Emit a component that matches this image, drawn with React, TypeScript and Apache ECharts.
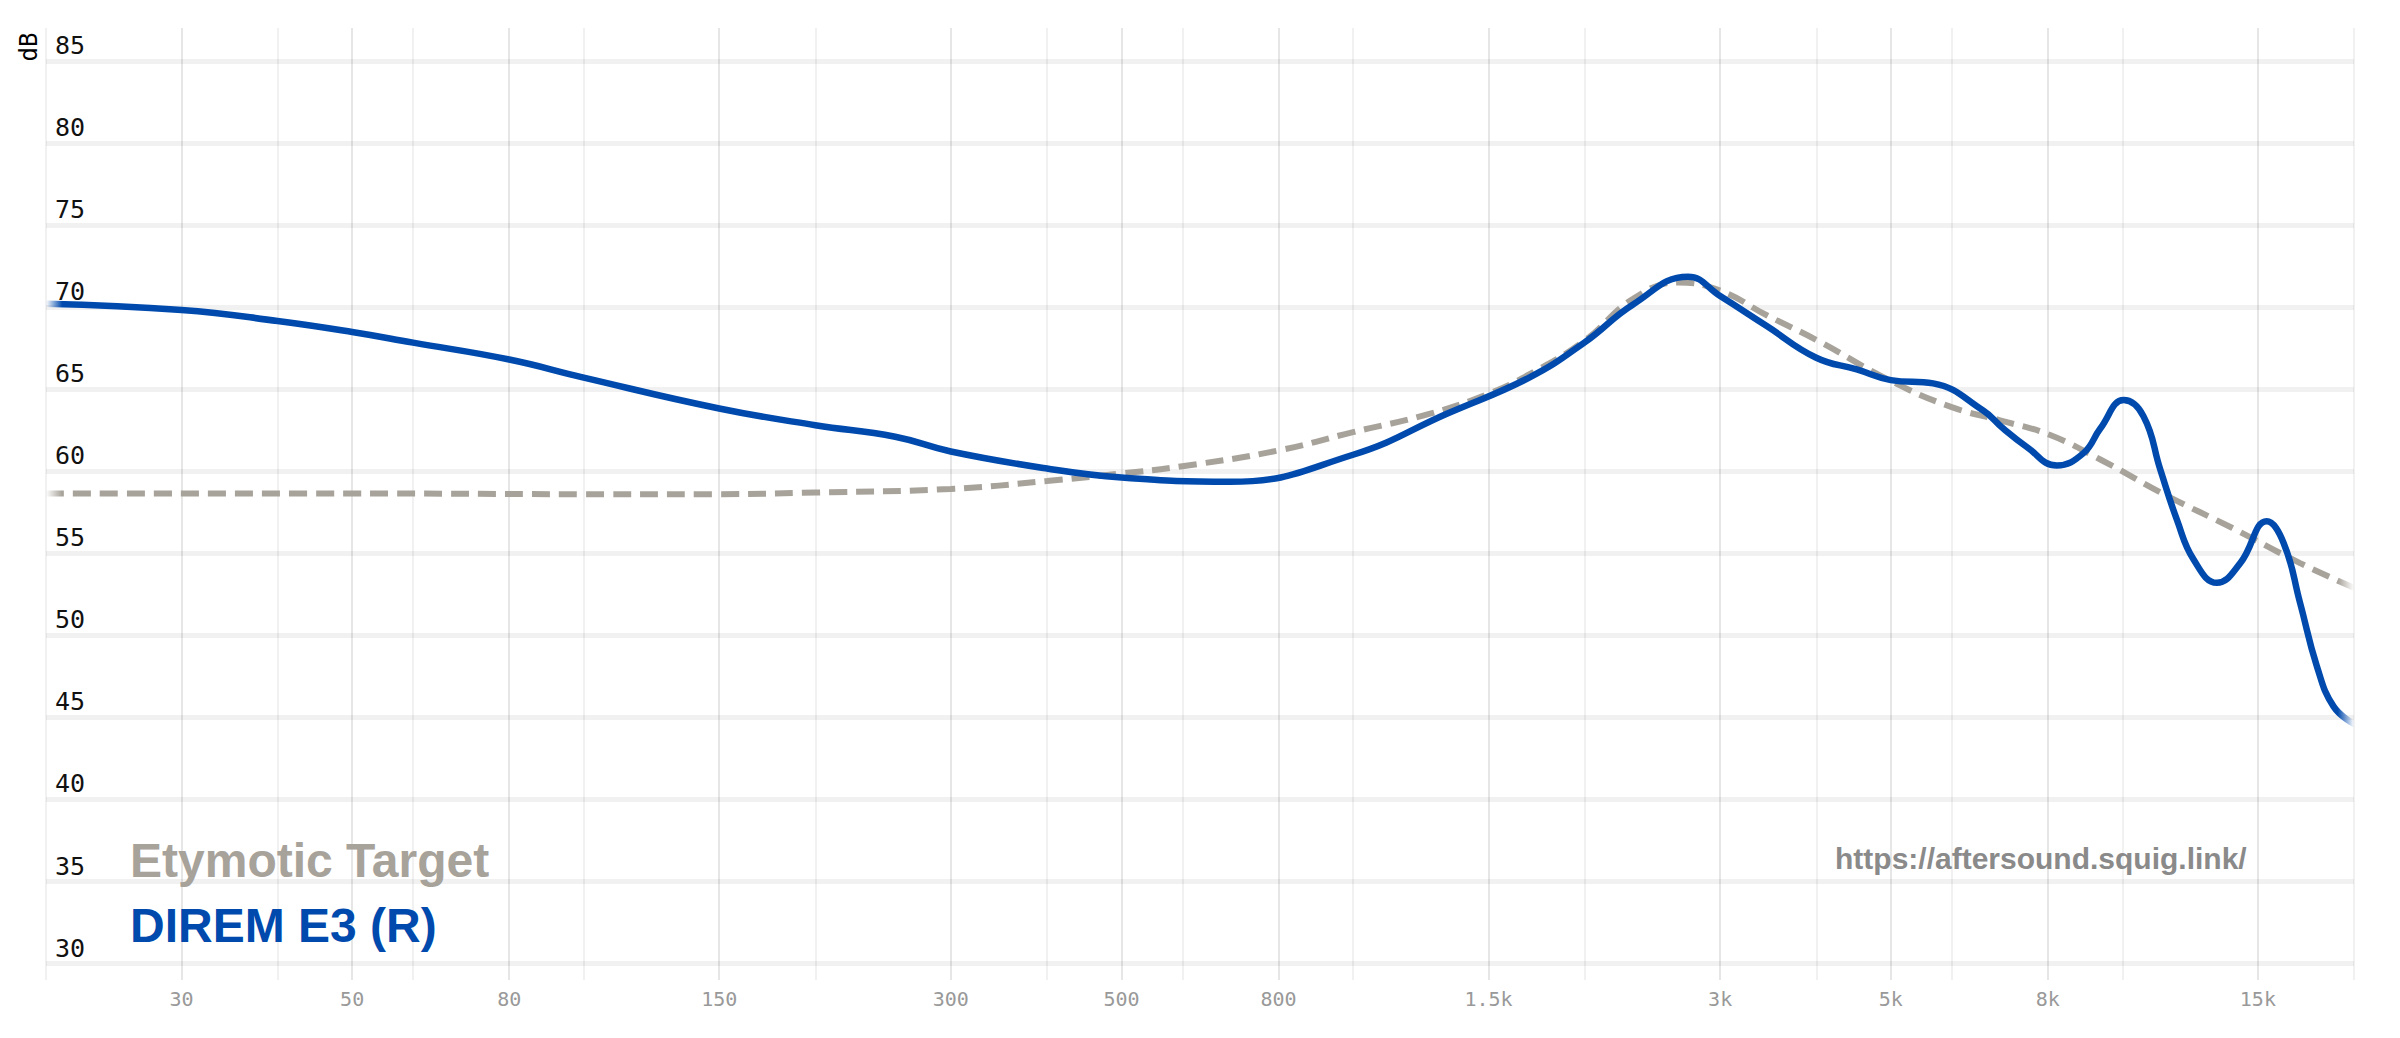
import React, { useEffect, useRef } from "react";
import * as echarts from "echarts";

// Measured response: DIREM E3 (R)
const diremFreq = [20, 30, 40, 50, 60, 80, 100, 150, 200, 254, 300, 400, 500, 692, 1000, 1324, 1699, 2000, 2312, 2725, 3000, 3449, 4000, 4516, 5000, 5675, 6592, 7000, 7500, 8217, 8900, 9360, 10040, 10650, 11200, 11770, 12380, 13270, 14230, 15400, 16200, 17020, 17900, 18810, 20000];
const diremDb = [70.2, 69.82, 69.15, 68.48, 67.83, 66.8, 65.7, 63.82, 62.8, 62.1, 61.2, 60.16, 59.61, 59.35, 61.0, 63.5, 65.73, 67.85, 70.16, 71.85, 70.67, 68.84, 66.91, 66.2, 65.55, 65.35, 63.7, 62.6, 61.5, 60.35, 61.1, 62.6, 64.33, 63.35, 60.1, 57.05, 54.6, 53.2, 54.4, 56.95, 55.63, 51.97, 48.1, 45.67, 44.6];

// Target: Etymotic Target
const targetFreq = [20, 50, 100, 150, 200, 300, 400, 500, 600, 800, 1000, 1259, 1500, 1699, 2000, 2312, 2650, 3000, 3449, 4000, 5000, 6000, 6934, 8055, 9360, 11450, 13880, 17020, 20000];
const targetDb = [58.64, 58.64, 58.6, 58.6, 58.7, 58.92, 59.4, 59.86, 60.3, 61.26, 62.38, 63.5, 64.72, 65.93, 67.95, 70.5, 71.5, 71.0, 69.5, 68.0, 65.5, 63.9, 63.1, 62.2, 60.71, 58.48, 56.55, 54.4, 52.9];

const yTicks = [30, 35, 40, 45, 50, 55, 60, 65, 70, 75, 80, 85];
const xLabelTicks = [30, 50, 80, 150, 300, 500, 800, 1500, 3000, 5000, 8000, 15000];
const xLabelTexts = ["30", "50", "80", "150", "300", "500", "800", "1.5k", "3k", "5k", "8k", "15k"];
const xMinorTicks = [20, 40, 60, 100, 200, 400, 600, 1000, 2000, 4000, 6000, 10000, 20000];

const seriesNames = ["Etymotic Target", "DIREM E3 (R)"];
const BLUE = "#004aae";
const GREY = "#a7a29a";

function fadeGradient(color: string, transparent: string) {
  return new echarts.graphic.LinearGradient(0, 0, 1, 0, [
    { offset: 0, color: transparent },
    { offset: 0.007, color },
    { offset: 0.993, color },
    { offset: 1, color: transparent },
  ]);
}

export default function App() {
  const ref = useRef<HTMLDivElement>(null);
  useEffect(() => {
    if (!ref.current) return;
    const chart = echarts.init(ref.current, undefined, { renderer: "svg" });
    const mono = "DejaVu Sans Mono";
    const hLines = yTicks.map((v) => ({
      yAxis: v,
      lineStyle: { color: "rgba(0,0,0,0.055)", width: 5, type: "solid" },
      label: {
        show: true,
        position: "insideStartTop",
        formatter: String(v),
        color: "#111",
        fontSize: 25,
        fontFamily: mono,
        distance: [9, 3],
      },
    }));
    const vMajor = xLabelTicks.map((f, i) => ({
      xAxis: f,
      lineStyle: { color: "#e6e6e6", width: 2, type: "solid" },
      label: {
        show: true,
        position: "start",
        formatter: xLabelTexts[i],
        color: "#999",
        fontSize: 20,
        fontFamily: mono,
        distance: 9,
      },
    }));
    const vMinor = xMinorTicks.map((f) => ({
      xAxis: f,
      lineStyle: { color: "#f1f1f1", width: 2, type: "solid" },
      label: { show: false },
    }));

    chart.setOption({
      animation: false,
      backgroundColor: "#fff",
      grid: { left: 46, right: 46, top: 28, bottom: 58, containLabel: false },
      xAxis: {
        type: "log",
        logBase: 10,
        min: 20,
        max: 20000,
        axisLine: { show: false },
        axisTick: { show: false },
        axisLabel: { show: false },
        splitLine: { show: false },
      },
      yAxis: {
        type: "value",
        min: 29,
        max: 87,
        axisLine: { show: false },
        axisTick: { show: false },
        axisLabel: { show: false },
        splitLine: { show: false },
      },
      series: [
        {
          type: "line",
          name: "grid",
          data: [],
          z: 0,
          silent: true,
          markLine: {
            silent: true,
            z: 0,
            symbol: ["none", "none"],
            animation: false,
            data: [...vMinor, ...vMajor, ...hLines],
          },
        },
        {
          type: "line",
          name: seriesNames[0],
          z: 3,
          data: targetFreq.map((f, i) => [f, targetDb[i]]),
          showSymbol: false,
          smooth: 0.45,
          lineStyle: {
            width: 6,
            type: [18, 9],
            cap: "butt",
            color: fadeGradient(GREY, "rgba(167,162,154,0)"),
          },
        },
        {
          type: "line",
          name: seriesNames[1],
          z: 4,
          data: diremFreq.map((f, i) => [f, diremDb[i]]),
          showSymbol: false,
          smooth: 0.45,
          lineStyle: {
            width: 6.5,
            cap: "round",
            color: fadeGradient(BLUE, "rgba(0,74,174,0)"),
          },
        },
      ],
      graphic: [
        {
          type: "text",
          x: 28.5,
          y: 47,
          z: 10,
          rotation: Math.PI / 2,
          style: { text: "dB", fontSize: 24, fontFamily: mono, fill: "#000", align: "center", verticalAlign: "middle" },
        },
        {
          type: "text",
          left: 130,
          top: 836,
          z: 10,
          style: { text: seriesNames[0], fontSize: 48, fontWeight: "bold", fontFamily: "Liberation Sans, Arial", fill: GREY },
        },
        {
          type: "text",
          left: 130,
          top: 901,
          z: 10,
          style: { text: seriesNames[1], fontSize: 48, fontWeight: "bold", fontFamily: "Liberation Sans, Arial", fill: BLUE },
        },
        {
          type: "text",
          left: 1835,
          top: 843,
          z: 10,
          style: { text: "https://aftersound.squig.link/", fontSize: 30, fontWeight: "bold", fontFamily: "Liberation Sans, Arial", fill: "#8a8a8a" },
        },
      ],
    });
    return () => chart.dispose();
  }, []);
  return <div ref={ref} style={{ position: "fixed", left: 0, top: 0, width: 2400, height: 1038 }} />;
}
